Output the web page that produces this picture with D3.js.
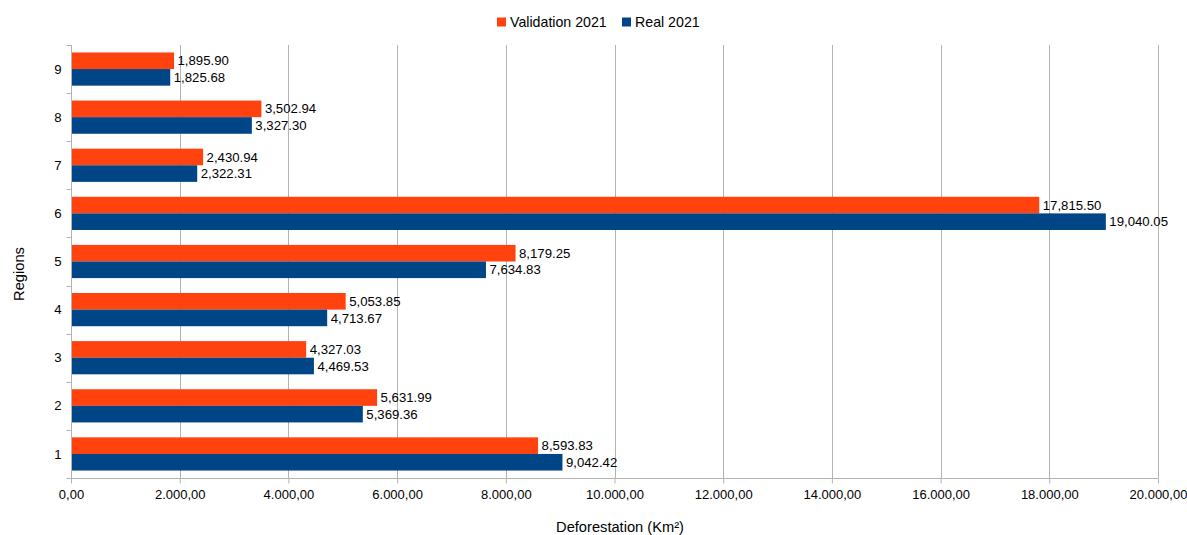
<!DOCTYPE html>
<html><head><meta charset="utf-8">
<script src="https://cdn.jsdelivr.net/npm/d3@7"></script>
<style>body{margin:0;background:#fff}svg text{font-family:"Liberation Sans",Arial,sans-serif;fill:#000}</style>
</head><body><svg id="c" width="1187" height="535"></svg>
<script>
const regions = ["1","2","3","4","5","6","7","8","9"];
const validation2021 = [8593.83,5631.99,4327.03,5053.85,8179.25,17815.50,2430.94,3502.94,1895.90];
const real2021 = [9042.42,5369.36,4469.53,4713.67,7634.83,19040.05,2322.31,3327.30,1825.68];
const xTicks = [0,2000,4000,6000,8000,10000,12000,14000,16000,18000,20000];
const seriesNames = ["Validation 2021","Real 2021"];
const colors = ["#ff420e","#004586"];

const svg = d3.select("#c");
const L=71,R=1158,T=45,B=478;
const x = d3.scaleLinear().domain([0,20000]).range([L,R]);
const y = d3.scaleBand().domain(regions.slice().reverse()).range([T,B]).paddingInner(0.31).paddingOuter(0.155);
const y1 = d3.scaleBand().domain([0,1]).range([0,y.bandwidth()]);

// grid
svg.append("g").selectAll("line").data(xTicks.slice(1)).join("line")
 .attr("x1",d=>Math.round(x(d))+0.5).attr("x2",d=>Math.round(x(d))+0.5).attr("y1",T).attr("y2",B)
 .attr("stroke","#b3b3b3");

const fmtTick = v => d3.format(",.2f")(v).replace(/,/g,"#").replace(".",",").replace(/#/g,".");
const fmtVal = d3.format(",.2f");

// bars
const data = regions.map((r,i)=>({r, v:[validation2021[i], real2021[i]]}));
const g = svg.append("g");
data.forEach(d=>{
  d.v.forEach((v,k)=>{
    const yy = y(d.r)+y1(k);
    g.append("rect").attr("x",x(0)).attr("y",yy).attr("width",x(v)-x(0)).attr("height",y1.bandwidth()).attr("fill",colors[k]);
    g.append("text").attr("x",x(v)+3.5).attr("y",yy+y1.bandwidth()/2).attr("dy","0.35em")
     .attr("font-size",13.2).text(fmtVal(v));
  });
});

// axes
const xa = svg.append("g").attr("transform",`translate(0,${B+0.5})`)
 .call(d3.axisBottom(x).tickValues(xTicks).tickFormat(fmtTick).tickSize(5).tickPadding(6));
xa.select(".domain").attr("stroke","#b3b3b3").attr("d",`M${L},0H${R}`);
xa.selectAll(".tick line").attr("stroke","#b3b3b3");
xa.selectAll("text").attr("font-size",13).attr("font-family","Liberation Sans, Arial, sans-serif");

const ya = svg.append("g").attr("transform",`translate(${L+0.5},0)`);
ya.append("line").attr("x1",0).attr("x2",0).attr("y1",T).attr("y2",B).attr("stroke","#b3b3b3");
const step = (B-T)/regions.length;
ya.selectAll(".tk").data(d3.range(regions.length+1)).join("line")
 .attr("x1",-5).attr("x2",0).attr("y1",d=>Math.round(T+d*step)+0.5).attr("y2",d=>Math.round(T+d*step)+0.5).attr("stroke","#b3b3b3");
ya.selectAll(".lb").data(regions).join("text")
 .attr("x",-10).attr("y",d=>y(d)+y.bandwidth()/2).attr("dy","0.35em").attr("text-anchor","end").attr("font-size",13.2).text(d=>d);

// axis titles
svg.append("text").attr("x",620).attr("y",532).attr("text-anchor","middle").attr("font-size",14.67).text("Deforestation (Km²)");
svg.append("text").attr("transform",`translate(23.5,274) rotate(-90)`).attr("text-anchor","middle").attr("font-size",14.67).text("Regions");

// legend
const lg = svg.append("g");
const lx=[497,622];
seriesNames.forEach((n,k)=>{
  lg.append("rect").attr("x",lx[k]).attr("y",17.5).attr("width",9).attr("height",9).attr("fill",colors[k]);
  lg.append("text").attr("x",lx[k]+13).attr("y",22).attr("dy","0.35em").attr("font-size",14.2).text(n);
});
</script></body></html>
